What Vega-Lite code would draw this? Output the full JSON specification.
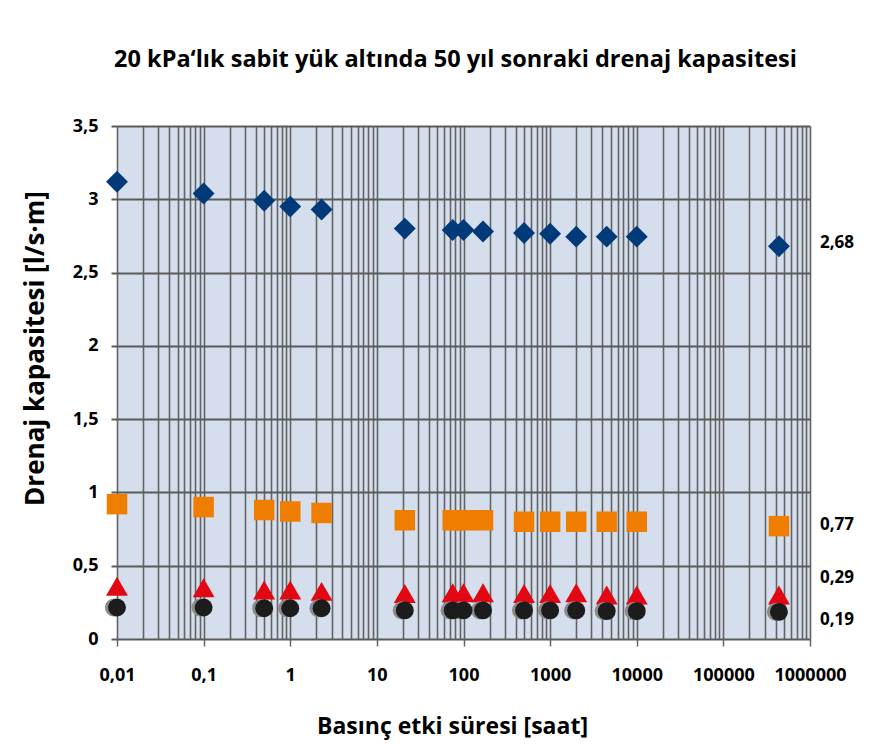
{
  "$schema": "https://vega.github.io/schema/vega-lite/v6.json",
  "width": 693,
  "height": 513,
  "autosize": "none",
  "padding": {"left": 117, "top": 126, "right": 78, "bottom": 115},
  "background": "white",
  "title": {
    "text": "20 kPa‘lık sabit yük altında 50 yıl sonraki drenaj kapasitesi",
    "font": "Open Sans", "fontSize": 23.5, "fontWeight": "bold", "color": "black",
    "anchor": "middle", "offset": 46, "dx": -8
  },
  "config": {
    "view": {"fill": "#d5deed", "stroke": null},
    "axis": {
      "labelFont": "Open Sans", "labelFontSize": 18, "labelFontWeight": "bold", "labelColor": "black",
      "titleFont": "Open Sans", "titleFontSize": 23, "titleFontWeight": "bold", "titleColor": "black",
      "domain": false
    }
  },
  "datasets": {
    "pts": [
      {"t": 0.01, "s": "d", "v": 3.12}, {"t": 0.1, "s": "d", "v": 3.04}, {"t": 0.5, "s": "d", "v": 2.99}, {"t": 1, "s": "d", "v": 2.95}, {"t": 2.3, "s": "d", "v": 2.93},
      {"t": 21, "s": "d", "v": 2.80}, {"t": 75, "s": "d", "v": 2.79}, {"t": 100, "s": "d", "v": 2.79}, {"t": 168, "s": "d", "v": 2.78}, {"t": 500, "s": "d", "v": 2.77},
      {"t": 1000, "s": "d", "v": 2.765}, {"t": 2000, "s": "d", "v": 2.745}, {"t": 4500, "s": "d", "v": 2.745}, {"t": 10000, "s": "d", "v": 2.745}, {"t": 438000, "s": "d", "v": 2.68},
      {"t": 0.01, "s": "q", "v": 0.92}, {"t": 0.1, "s": "q", "v": 0.90}, {"t": 0.5, "s": "q", "v": 0.88}, {"t": 1, "s": "q", "v": 0.87}, {"t": 2.3, "s": "q", "v": 0.86},
      {"t": 21, "s": "q", "v": 0.81}, {"t": 75, "s": "q", "v": 0.81}, {"t": 100, "s": "q", "v": 0.81}, {"t": 168, "s": "q", "v": 0.81}, {"t": 500, "s": "q", "v": 0.80},
      {"t": 1000, "s": "q", "v": 0.80}, {"t": 2000, "s": "q", "v": 0.80}, {"t": 4500, "s": "q", "v": 0.80}, {"t": 10000, "s": "q", "v": 0.80}, {"t": 438000, "s": "q", "v": 0.77},
      {"t": 0.01, "s": "r", "v": 0.36}, {"t": 0.1, "s": "r", "v": 0.35}, {"t": 0.5, "s": "r", "v": 0.335}, {"t": 1, "s": "r", "v": 0.335}, {"t": 2.3, "s": "r", "v": 0.325},
      {"t": 21, "s": "r", "v": 0.31}, {"t": 75, "s": "r", "v": 0.315}, {"t": 100, "s": "r", "v": 0.315}, {"t": 168, "s": "r", "v": 0.315}, {"t": 500, "s": "r", "v": 0.31},
      {"t": 1000, "s": "r", "v": 0.31}, {"t": 2000, "s": "r", "v": 0.315}, {"t": 4500, "s": "r", "v": 0.30}, {"t": 10000, "s": "r", "v": 0.30}, {"t": 438000, "s": "r", "v": 0.30},
      {"t": 0.01, "s": "c", "v": 0.215}, {"t": 0.1, "s": "c", "v": 0.215}, {"t": 0.5, "s": "c", "v": 0.21}, {"t": 1, "s": "c", "v": 0.21}, {"t": 2.3, "s": "c", "v": 0.21},
      {"t": 21, "s": "c", "v": 0.195}, {"t": 75, "s": "c", "v": 0.195}, {"t": 100, "s": "c", "v": 0.195}, {"t": 168, "s": "c", "v": 0.195}, {"t": 500, "s": "c", "v": 0.195},
      {"t": 1000, "s": "c", "v": 0.195}, {"t": 2000, "s": "c", "v": 0.195}, {"t": 4500, "s": "c", "v": 0.19}, {"t": 10000, "s": "c", "v": 0.19}, {"t": 438000, "s": "c", "v": 0.185}
    ]
  },
  "data": {"name": "pts"},
  "encoding": {
    "x": {
      "field": "t", "type": "quantitative",
      "scale": {"type": "log", "domain": [0.01, 1000000]},
      "axis": {
        "title": "Basınç etki süresi [saat]",
        "grid": true, "gridColor": "#636363", "gridWidth": 1.6,
        "tickColor": "#636363", "tickSize": 7, "tickWidth": 1.5,
        "tickOpacity": {"condition": {"test": "abs(log(datum.value)/LN10 - round(log(datum.value)/LN10)) < 0.001", "value": 1}, "value": 0},
        "labelExpr": "abs(log(datum.value)/LN10 - round(log(datum.value)/LN10)) < 0.001 ? replace(toString(datum.value), '.', ',') : ''",
        "labelOverlap": false, "labelFlush": false, "labelPadding": 20,
        "titlePadding": 31, "titleX": 335
      }
    },
    "y": {
      "field": "v", "type": "quantitative",
      "scale": {"domain": [0, 3.5]},
      "axis": {
        "title": "Drenaj kapasitesi [l/s·m]",
        "titleFontSize": 26,
        "values": [0, 0.5, 1, 1.5, 2, 2.5, 3, 3.5],
        "grid": true, "gridColor": "#5a5a5a", "gridWidth": 2,
        "tickColor": "#5a5a5a", "tickSize": 6, "tickWidth": 2,
        "labelExpr": "replace(toString(datum.value), '.', ',')",
        "labelPadding": 13, "titlePadding": 24, "titleY": 222
      }
    }
  },
  "layer": [
    {"transform": [{"filter": "datum.s == 'd'"}], "mark": {"type": "point", "shape": "diamond", "filled": true, "opacity": 1, "size": 480, "color": "#003a78"}},
    {"transform": [{"filter": "datum.s == 'q'"}], "mark": {"type": "point", "shape": "square", "filled": true, "opacity": 1, "size": 420, "color": "#ef7d00"}},
    {"transform": [{"filter": "datum.s == 'r'"}], "mark": {"type": "point", "shape": "triangle-up", "filled": true, "opacity": 1, "size": 480, "color": "#e30613"}},
    {"transform": [{"filter": "datum.s == 'c'"}], "mark": {"type": "point", "shape": "circle", "filled": true, "opacity": 1, "size": 330, "color": "#8c8c8c", "xOffset": -3}},
    {"transform": [{"filter": "datum.s == 'c'"}], "mark": {"type": "point", "shape": "circle", "filled": true, "opacity": 1, "size": 320, "color": "#1c1c1c"}},
    {
      "data": {"values": [
        {"t": 438000, "v": 2.70, "label": "2,68"},
        {"t": 438000, "v": 0.777, "label": "0,77"},
        {"t": 438000, "v": 0.416, "label": "0,29"},
        {"t": 438000, "v": 0.13, "label": "0,19"}
      ]},
      "mark": {"type": "text", "align": "left", "baseline": "middle", "dx": 41, "font": "Open Sans", "fontSize": 17, "fontWeight": "bold", "color": "black"},
      "encoding": {"text": {"field": "label"}}
    }
  ]
}
